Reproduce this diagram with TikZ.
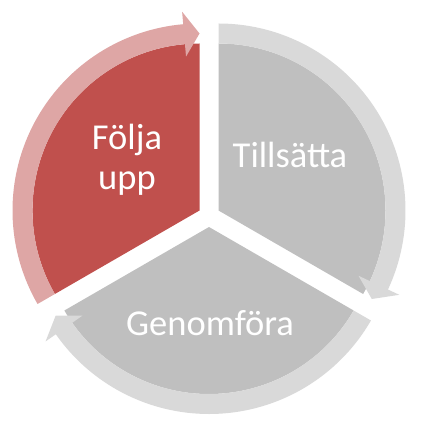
\documentclass[tikz,border=0pt]{standalone}
\usepackage{fontspec}
\setmainfont{Carlito}
\definecolor{segred}{HTML}{C0504D}
\definecolor{ringred}{HTML}{DEA6A5}
\definecolor{seggray}{HTML}{BFBFBF}
\definecolor{ringgray}{HTML}{D9D9D9}
\def\rs{167pt}
\def\ro{187pt}
\def\rm{177pt}
\def\rh{199.5pt}
\def\rl{154.5pt}
% #1 tail angle, #2 head angle, #3 segment colour, #4 ring colour
\newcommand{\mysegment}[4]{%
  \fill[#3] (0,0) -- (#1:\rs) arc[start angle=#1, end angle=#2, radius=\rs] -- cycle;
  \fill[#4] (#1:\rs) -- (#1:\ro) arc[start angle=#1, end angle=#2+5, radius=\ro]
     -- (#2+5:\rh) -- (#2:\rm) -- (#2+5:\rl) -- (#2+5:\rs)
     arc[start angle=#2+5, end angle=#1, radius=\rs] -- cycle;
}
\tikzset{lbl/.style={text=white, inner sep=0pt, font=\fontsize{36.5}{40}\selectfont, align=center}}
\begin{document}
\begin{tikzpicture}[x=1pt,y=1pt]
\useasboundingbox (0,0) rectangle (420,-427);
\begin{scope}[shift={(199.5,-210.5)}]
  \mysegment{210}{90}{segred}{ringred}
\end{scope}
\begin{scope}[shift={(218.5,-210.5)}]
  \mysegment{90}{-30}{seggray}{ringgray}
\end{scope}
\begin{scope}[shift={(209,-227)}]
  \mysegment{330}{210}{seggray}{ringgray}
\end{scope}
\node[lbl, anchor=base] (folja) at (127,-190) {Följa\\upp};
\node[lbl, anchor=base] (tills) at (290,-168) {Tillsätta};
\node[lbl, anchor=base] (genom) at (210,-335) {Genomföra};
\end{tikzpicture}
\end{document}
